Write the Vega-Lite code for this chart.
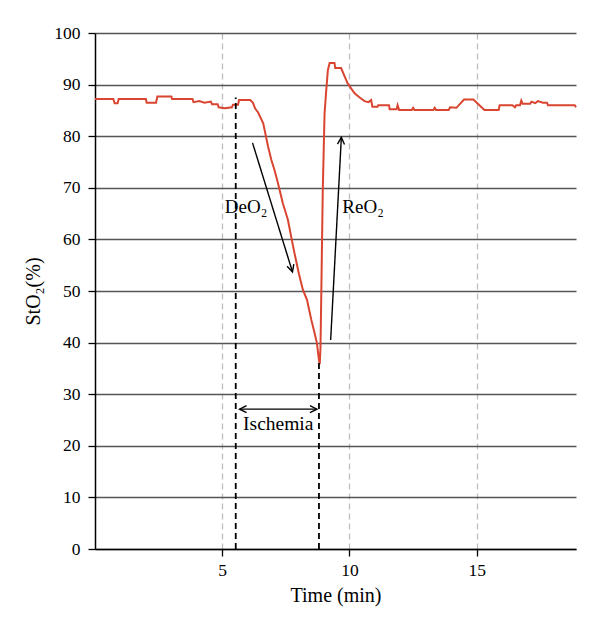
{
  "$schema": "https://vega.github.io/schema/vega-lite/v6.json",
  "width": 481,
  "height": 516,
  "autosize": {"type": "none"},
  "padding": {"left": 95, "top": 33, "right": 24, "bottom": 85},
  "background": "white",
  "config": {
    "view": {"stroke": null},
    "font": "Liberation Serif",
    "axis": {
      "labelFont": "Liberation Serif",
      "titleFont": "Liberation Serif",
      "labelFontSize": 17.5,
      "titleFontSize": 20,
      "titleFontWeight": "normal",
      "labelColor": "black",
      "titleColor": "black",
      "domainColor": "black",
      "domainWidth": 1.5,
      "tickColor": "black",
      "tickWidth": 1.3,
      "tickSize": 7
    }
  },
  "datasets": {
    "curve": [
      {"t": 0, "v": 87.2}, {"t": 0.72, "v": 87.2}, {"t": 0.77, "v": 86.4}, {"t": 0.89, "v": 86.4}, {"t": 0.93, "v": 87.2},
      {"t": 2.0, "v": 87.2}, {"t": 2.03, "v": 86.5}, {"t": 2.4, "v": 86.5}, {"t": 2.45, "v": 87.7}, {"t": 3.0, "v": 87.7},
      {"t": 3.03, "v": 87.2}, {"t": 3.83, "v": 87.2}, {"t": 3.87, "v": 86.6}, {"t": 4.1, "v": 86.8}, {"t": 4.3, "v": 86.5},
      {"t": 4.55, "v": 86.7}, {"t": 4.6, "v": 86.2}, {"t": 4.82, "v": 86.2}, {"t": 4.86, "v": 85.6}, {"t": 5.1, "v": 85.4},
      {"t": 5.38, "v": 85.6}, {"t": 5.42, "v": 86.1}, {"t": 5.62, "v": 86.1}, {"t": 5.66, "v": 87.0}, {"t": 6.1, "v": 87.0},
      {"t": 6.2, "v": 86.5}, {"t": 6.3, "v": 85.3}, {"t": 6.41, "v": 84.6}, {"t": 6.61, "v": 82.5}, {"t": 6.8, "v": 78.0},
      {"t": 6.93, "v": 75.4}, {"t": 7.05, "v": 73.5}, {"t": 7.19, "v": 70.9}, {"t": 7.38, "v": 67.0}, {"t": 7.58, "v": 63.8},
      {"t": 7.71, "v": 60.5}, {"t": 7.84, "v": 57.3}, {"t": 8.01, "v": 53.4}, {"t": 8.17, "v": 50.2}, {"t": 8.33, "v": 48.3},
      {"t": 8.5, "v": 44.4}, {"t": 8.63, "v": 41.8}, {"t": 8.72, "v": 39.9}, {"t": 8.8, "v": 36.6}, {"t": 8.83, "v": 35.8},
      {"t": 8.86, "v": 39.0}, {"t": 8.89, "v": 48.9}, {"t": 8.95, "v": 69.6}, {"t": 9.02, "v": 84.4}, {"t": 9.08, "v": 88.5},
      {"t": 9.15, "v": 92.8}, {"t": 9.22, "v": 94.2}, {"t": 9.41, "v": 94.2}, {"t": 9.44, "v": 93.2}, {"t": 9.67, "v": 93.2},
      {"t": 9.93, "v": 90.2}, {"t": 10.2, "v": 88.3}, {"t": 10.4, "v": 87.5}, {"t": 10.59, "v": 86.8}, {"t": 10.75, "v": 86.6},
      {"t": 10.85, "v": 87.0}, {"t": 10.9, "v": 85.7}, {"t": 11.1, "v": 85.7}, {"t": 11.13, "v": 86.0}, {"t": 11.55, "v": 86.0},
      {"t": 11.58, "v": 85.2}, {"t": 11.85, "v": 85.2}, {"t": 11.89, "v": 86.0}, {"t": 11.95, "v": 85.1}, {"t": 12.45, "v": 85.1},
      {"t": 12.5, "v": 85.5}, {"t": 12.55, "v": 85.1}, {"t": 13.3, "v": 85.1}, {"t": 13.35, "v": 85.5}, {"t": 13.4, "v": 85.1},
      {"t": 13.9, "v": 85.1}, {"t": 13.95, "v": 85.6}, {"t": 14.2, "v": 85.5}, {"t": 14.5, "v": 87.1}, {"t": 14.87, "v": 87.1},
      {"t": 15.3, "v": 85.1}, {"t": 15.86, "v": 85.1}, {"t": 15.9, "v": 86.0}, {"t": 16.4, "v": 86.0}, {"t": 16.5, "v": 85.6},
      {"t": 16.55, "v": 86.0}, {"t": 16.7, "v": 86.0}, {"t": 16.75, "v": 86.9}, {"t": 16.8, "v": 86.3}, {"t": 17.1, "v": 86.3},
      {"t": 17.15, "v": 86.7}, {"t": 17.3, "v": 86.4}, {"t": 17.4, "v": 86.8}, {"t": 17.6, "v": 86.5}, {"t": 17.76, "v": 86.5},
      {"t": 17.8, "v": 86.0}, {"t": 18.85, "v": 86.0}, {"t": 18.9, "v": 85.6}
    ]
  },
  "layer": [
    {
      "data": {"name": "curve"},
      "mark": {"type": "line", "color": "#d94530", "strokeWidth": 2},
      "encoding": {
        "x": {
          "field": "t", "type": "quantitative",
          "scale": {"domain": [0, 18.9], "nice": false, "zero": false},
          "axis": {
            "title": "Time (min)", "values": [5, 10, 15],
            "grid": true, "gridColor": "#bdbdbd", "gridDash": [6, 4], "gridWidth": 1.3,
            "labelPadding": 5, "titlePadding": 7
          }
        },
        "y": {
          "field": "v", "type": "quantitative",
          "scale": {"domain": [0, 100], "nice": false},
          "axis": {
            "title": "StO₂(%)", "values": [0, 10, 20, 30, 40, 50, 60, 70, 80, 90, 100],
            "grid": true, "gridColor": "#555555", "gridWidth": 1.4,
            "labelPadding": 8, "titlePadding": 10
          }
        }
      }
    },
    {
      "data": {"values": [{"x": 5.53, "ybot": 0, "ytop": 87.5}, {"x": 8.8, "ybot": 0, "ytop": 36.5}]},
      "mark": {"type": "rule", "color": "black", "strokeWidth": 1.8, "strokeDash": [6, 4]},
      "encoding": {
        "x": {"field": "x", "type": "quantitative"},
        "y": {"field": "ybot", "type": "quantitative"},
        "y2": {"field": "ytop"}
      }
    },
    {
      "data": {"values": [
        {"x1": 6.19, "y1": 78.7, "x2": 7.76, "y2": 53.7},
        {"x1": 9.26, "y1": 40.5, "x2": 9.68, "y2": 79.8},
        {"x1": 5.68, "y1": 27.1, "x2": 8.72, "y2": 27.1}
      ]},
      "mark": {"type": "rule", "color": "black", "strokeWidth": 1.4},
      "encoding": {
        "x": {"field": "x1", "type": "quantitative"},
        "y": {"field": "y1", "type": "quantitative"},
        "x2": {"field": "x2"},
        "y2": {"field": "y2"}
      }
    },
    {
      "data": {"values": [{"x": 7.76, "y": 53.7}]},
      "mark": {"type": "point", "shape": "M-0.7,1.4L0,0L0.7,1.4", "filled": false, "stroke": "black", "strokeWidth": 1.4, "size": 100, "angle": 163, "opacity": 1},
      "encoding": {"x": {"field": "x", "type": "quantitative"}, "y": {"field": "y", "type": "quantitative"}}
    },
    {
      "data": {"values": [{"x": 9.68, "y": 79.8}]},
      "mark": {"type": "point", "shape": "M-0.7,1.4L0,0L0.7,1.4", "filled": false, "stroke": "black", "strokeWidth": 1.4, "size": 100, "angle": 3, "opacity": 1},
      "encoding": {"x": {"field": "x", "type": "quantitative"}, "y": {"field": "y", "type": "quantitative"}}
    },
    {
      "data": {"values": [{"x": 5.68, "y": 27.1}]},
      "mark": {"type": "point", "shape": "M-0.7,1.4L0,0L0.7,1.4", "filled": false, "stroke": "black", "strokeWidth": 1.4, "size": 100, "angle": 270, "opacity": 1},
      "encoding": {"x": {"field": "x", "type": "quantitative"}, "y": {"field": "y", "type": "quantitative"}}
    },
    {
      "data": {"values": [{"x": 8.72, "y": 27.1}]},
      "mark": {"type": "point", "shape": "M-0.7,1.4L0,0L0.7,1.4", "filled": false, "stroke": "black", "strokeWidth": 1.4, "size": 100, "angle": 90, "opacity": 1},
      "encoding": {"x": {"field": "x", "type": "quantitative"}, "y": {"field": "y", "type": "quantitative"}}
    },
    {
      "data": {"values": [{"label": "DeO₂", "x": 5.1, "y": 65.1}, {"label": "ReO₂", "x": 9.72, "y": 65.1}]},
      "mark": {"type": "text", "align": "left", "baseline": "alphabetic", "font": "Liberation Serif", "fontSize": 19, "color": "black"},
      "encoding": {
        "x": {"field": "x", "type": "quantitative"},
        "y": {"field": "y", "type": "quantitative"},
        "text": {"field": "label"}
      }
    },
    {
      "data": {"values": [{"label": "Ischemia", "x": 7.2, "y": 23.1}]},
      "mark": {"type": "text", "align": "center", "baseline": "alphabetic", "font": "Liberation Serif", "fontSize": 19.5, "color": "black"},
      "encoding": {
        "x": {"field": "x", "type": "quantitative"},
        "y": {"field": "y", "type": "quantitative"},
        "text": {"field": "label"}
      }
    }
  ]
}
